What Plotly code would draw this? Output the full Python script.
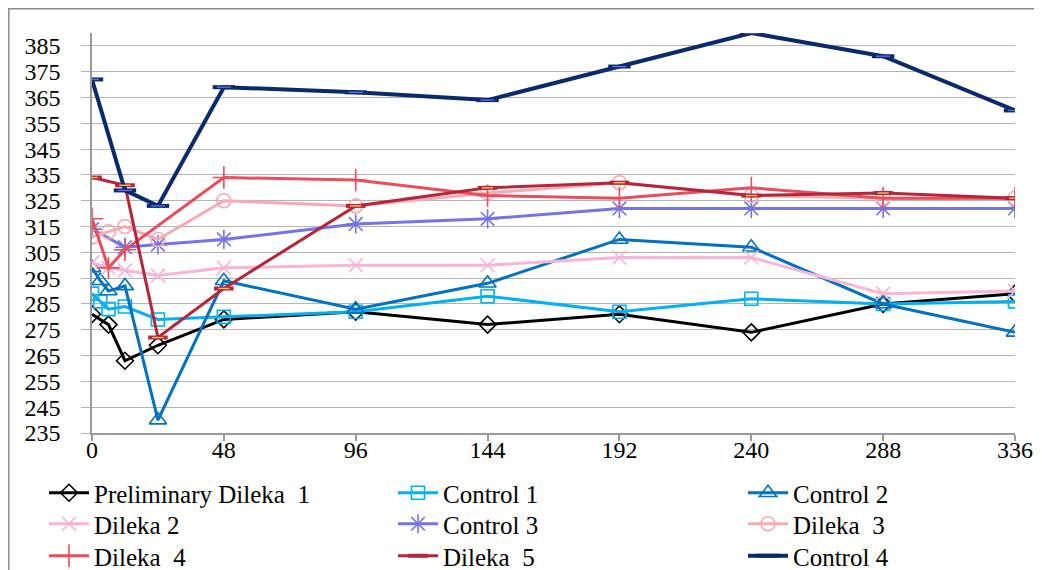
import plotly.graph_objects as go

# ---- data (time in hours, values) ----
t_prelim = [0, 6, 12, 24, 48, 96, 144, 192, 240, 288, 336]
v_prelim = [281, 277, 263, 269, 279, 282, 277, 281, 274, 285, 289]

t_c1 = [0, 3, 6, 12, 24, 48, 96, 144, 192, 240, 288, 336]
v_c1 = [289, 286, 283, 284, 279, 280, 282, 288, 282, 287, 285, 286]

t_c2 = [0, 3, 6, 12, 24, 48, 96, 144, 192, 240, 288, 336]
v_c2 = [299, 294, 290, 292, 240, 294, 283, 293, 310, 307, 285, 274]

t_d2 = [0, 6, 12, 24, 48, 96, 144, 192, 240, 288, 336]
v_d2 = [301, 299, 298, 296, 299, 300, 300, 303, 303, 289, 290]

t_c3 = [0, 12, 24, 48, 96, 144, 192, 240, 288, 336]
v_c3 = [314, 307, 308, 310, 316, 318, 322, 322, 322, 322]

t_d3 = [0, 6, 12, 24, 48, 96, 144, 192, 240, 288, 336]
v_d3 = [311, 313, 315, 310, 325, 323, 328, 332, 327, 326, 326]

t_d4 = [0, 6, 12, 48, 96, 144, 192, 240, 288, 336]
v_d4 = [318, 299, 306, 334, 333, 327, 326, 330, 326, 326]

t_d5 = [0, 12, 24, 48, 96, 144, 192, 240, 288, 336]
v_d5 = [334, 331, 272, 291, 323, 330, 332, 327, 328, 326]

t_c4 = [0, 12, 24, 48, 96, 144, 192, 240, 288, 336]
v_c4 = [372, 329, 323, 369, 367, 364, 377, 390, 381, 360]

x_ticks = [0, 48, 96, 144, 192, 240, 288, 336]
y_ticks = list(range(235, 386, 10))

names = ["Preliminary Dileka\u00a0 1", "Control 1", "Control 2", "Dileka 2", "Control 3",
         "Dileka\u00a0 3", "Dileka\u00a0 4", "Dileka\u00a0 5", "Control 4"]

# (t, v, name, color, symbol, size, line width, inner-dash colour)
series = [
    (t_prelim, v_prelim, names[0], "#000000", "diamond-open", 13, 3, None),
    (t_c1, v_c1, names[1], "#00B0F0", "square-open", 13, 3, None),
    (t_c2, v_c2, names[2], "#0070C0", "triangle-up-open", 15, 3, None),
    (t_d2, v_d2, names[3], "#F9B4D6", "x-thin-open", 14, 3, None),
    (t_c3, v_c3, names[4], "#7474E6", "asterisk-open", 16, 3, None),
    (t_d3, v_d3, names[5], "#F6AAB6", "circle-open", 14, 3, None),
    (t_d4, v_d4, names[6], "#E84E5E", "cross-thin-open", 16, 3, None),
    (t_d5, v_d5, names[7], "#B5263A", "line-ew-open", 14, 3, "#E6B8B8"),
    (t_c4, v_c4, names[8], "#0B2A6B", "line-ew-open", 16, 4, "#D8E4BC"),
]

FONT = "Liberation Serif"

# page is offset by the 8px body margin: plot area in figure px
L, T, W, H = 84, 25, 923, 400
def px(fx):
    return (fx - L) / W
def py(fy):
    return (T + H - fy) / H

legend_cols = [36, 385, 735]          # figure px of each legend column
legend_rows = [462, 493, 525]         # figure px of each legend row (top)

fig = go.Figure()
for i, (t, v, name, color, sym, size, lw, inner) in enumerate(series):
    row, col = i // 3, i % 3
    lg = "legend" if i == 0 else f"legend{i + 1}"
    mlw = 4 if sym == "line-ew-open" else 1.6
    fig.add_trace(go.Scatter(
        x=t, y=v, name=name, mode="lines+markers", legend=lg,
        line=dict(color=color, width=lw),
        marker=dict(symbol=sym, size=size, color=color, line=dict(color=color, width=mlw)),
    ))
    fig.update_layout({lg: dict(
        x=px(legend_cols[col]), y=py(legend_rows[row]), xanchor="left", yanchor="top",
        orientation="v", bgcolor="rgba(0,0,0,0)", itemwidth=40,
        font=dict(size=25, family=FONT, color="black"),
    )})

# light inner fill of the dash markers
for t, v, name, color, sym, size, lw, inner in series:
    if inner:
        fig.add_trace(go.Scatter(
            x=t, y=v, mode="markers", showlegend=False, hoverinfo="skip",
            marker=dict(symbol="line-ew-open", size=size - 6,
                        line=dict(color=inner, width=1.3)),
        ))

fig.update_layout(
    width=1042, height=570,
    margin=dict(l=L, r=1042 - L - W, t=T, b=570 - T - H, autoexpand=False),
    paper_bgcolor="white", plot_bgcolor="white",
    font=dict(family=FONT, size=24, color="black"),
    xaxis=dict(range=[0, 336], tickvals=x_ticks, showgrid=False, zeroline=False,
               showline=True, linecolor="#9a9a9a", linewidth=1.5,
               ticks="outside", ticklen=6, tickcolor="#9a9a9a", tickwidth=1.5,
               ticklabelstandoff=-12,
               tickfont=dict(size=24, family=FONT, color="black"), automargin=False),
    yaxis=dict(range=[235, 390], tickvals=y_ticks, showgrid=True, gridcolor="#b4b4b4",
               gridwidth=1.3, zeroline=False, showline=True, linecolor="#9a9a9a",
               linewidth=1.5, ticks="outside", ticklen=9, tickcolor="#b4b4b4", tickwidth=1.3,
               ticklabelstandoff=16,
               tickfont=dict(size=24, family=FONT, color="black"), automargin=False),
    showlegend=True,
)

# outer chart-area border (at the figure's own edge)
fig.add_shape(type="rect", xref="paper", yref="paper",
              x0=px(0.8), x1=px(1060), y0=py(590), y1=py(0.8),
              line=dict(color="#8c8c8c", width=1.5), fillcolor="rgba(0,0,0,0)", layer="below")

fig.write_html("out.html")
